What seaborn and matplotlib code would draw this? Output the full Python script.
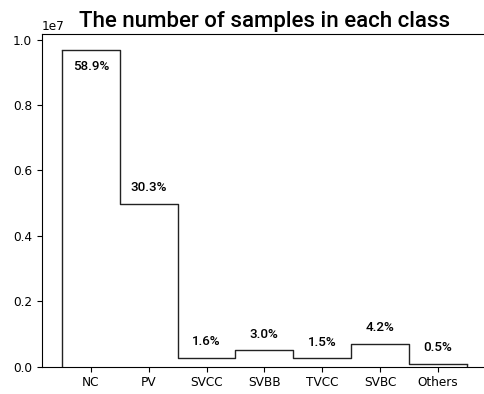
import matplotlib
matplotlib.use("Agg")
import matplotlib.pyplot as plt
import seaborn as sns

# Sample counts per class
classes = ["NC", "PV", "SVCC", "SVBB", "TVCC", "SVBC", "Others"]
counts = [9690000, 4985000, 263000, 494000, 247000, 691000, 82000]

total = sum(counts)
shares = [c / total * 100 for c in counts]

plt.rcParams["font.family"] = ["DejaVu Sans"]
label_font = ["Roboto", "DejaVu Sans"]
line_color = "#222222"

fig = plt.figure(figsize=(4.85, 3.94), dpi=100)
ax = fig.add_axes([41.7 / 485, 27.5 / 394, 445.3 / 485, 332.5 / 394])

sns.histplot(x=classes, weights=counts, discrete=True, element="step",
             fill=False, color=line_color, linewidth=1.0, ax=ax)

# close the outline down to the baseline at both ends
ax.vlines([-0.5, len(classes) - 0.5], 0, [counts[0], counts[-1]],
          color=line_color, linewidth=1.0)

ax.set_xlim(-0.85, 6.85)
ax.set_ylim(0, max(counts) * 1.05)
ax.set_ylabel("")
ax.set_xlabel("")
ax.tick_params(labelsize=8.7)
ax.yaxis.get_offset_text().set_fontsize(8.7)

ymax = ax.get_ylim()[1]
for i, (c, s) in enumerate(zip(counts, shares)):
    # put the label above the step, or inside it when there is no room
    inside = c + 0.06 * ymax > ymax * 0.97
    dy = -12 if inside else 11.5
    ax.annotate(f"{s:.1f}%", xy=(i, c), xytext=(0, dy),
                textcoords="offset points", ha="center", va="center",
                fontsize=9.6, family=label_font, fontweight="medium")

ax.set_title("The number of samples in each class", fontsize=16,
             family=label_font, fontweight="medium", pad=5)

fig.savefig("out.png", dpi=100)
